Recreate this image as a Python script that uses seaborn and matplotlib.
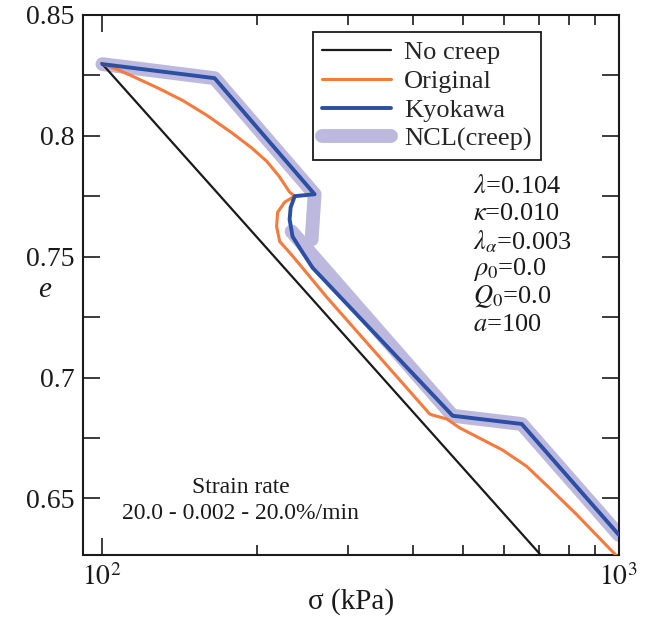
import numpy as np
import pandas as pd
import matplotlib
matplotlib.use('Agg')
import matplotlib.pyplot as plt
import seaborn as sns
from matplotlib.ticker import FixedLocator, MultipleLocator, NullFormatter

# e - log(sigma) curves
nocreep_s = [100, 1000]
nocreep_e = [0.830, 0.5905]

orig_s = [100.4, 107.0, 114.8, 127.8, 143.5, 159.7, 179.2, 195.0, 208.5, 220.0, 231.0, 236.3,
          225.9, 219.0, 218.0, 221.0, 231.0, 243.7, 272.4, 430.8, 434.6,
          464.8, 492.6, 596.6, 663.7, 735.6, 829.6, 960.7, 1000]
orig_e = [0.8296, 0.8275, 0.8246, 0.8200, 0.8146, 0.8085, 0.8010, 0.7950, 0.7895, 0.7835, 0.7767, 0.7750,
          0.7725, 0.7683, 0.7625, 0.7563, 0.7517, 0.7458, 0.7333, 0.6850, 0.6846,
          0.6829, 0.6792, 0.6700, 0.6633, 0.6542, 0.6433, 0.6292, 0.6254]

kyo_s = [100.4, 165.4, 258.2, 247.0, 236.3, 232.1, 231.0, 234.1, 244.8, 255.9,
         477.4, 649.2, 1000]
kyo_e = [0.8296, 0.8238, 0.7758, 0.7754, 0.7750, 0.7704, 0.7654, 0.7583, 0.7517, 0.7454,
         0.6842, 0.6808, 0.6350]

ncl1_s = [100.4, 165.4, 258.2, 254.8]
ncl1_e = [0.8296, 0.8238, 0.7758, 0.7571]
ncl2_s = [233.1, 477.4, 649.2, 1000]
ncl2_e = [0.7604, 0.6842, 0.6808, 0.6350]

params = [r'$\lambda$=0.104', r'$\kappa$=0.010', r'$\lambda_\alpha$=0.003',
          r'$\rho_0$=0.0', r'$Q_0$=0.0', r'$a$=100']

sns.set_theme(style='ticks')
plt.rcParams['font.family'] = ['Liberation Serif', 'DejaVu Serif']
plt.rcParams['mathtext.fontset'] = 'stix'

c_black = '#1a1a1a'
c_orange = '#f57a3c'
c_blue = '#2b4fa3'
c_ncl = '#bdb9de'

fig = plt.figure(figsize=(6.52, 6.17), dpi=100)
ax = fig.add_axes([0.127, 0.100, 0.822, 0.876])

# NCL (creep) thick band underneath
sns.lineplot(x=ncl1_s, y=ncl1_e, sort=False, estimator=None, color=c_ncl, linewidth=10,
             solid_capstyle='round', solid_joinstyle='round', label='NCL(creep)', ax=ax, zorder=1)
sns.lineplot(x=ncl2_s, y=ncl2_e, sort=False, estimator=None, color=c_ncl, linewidth=10,
             solid_capstyle='round', solid_joinstyle='round', ax=ax, zorder=1)
sns.lineplot(x=nocreep_s, y=nocreep_e, sort=False, estimator=None, color=c_black,
             linewidth=1.6, label='No creep', ax=ax, zorder=2)
sns.lineplot(x=orig_s, y=orig_e, sort=False, estimator=None, color=c_orange,
             linewidth=2.2, label='Original', ax=ax, zorder=3)
sns.lineplot(x=kyo_s, y=kyo_e, sort=False, estimator=None, color=c_blue,
             linewidth=2.8, label='Kyokawa', ax=ax, zorder=4)

ax.set_xscale('log')
ax.set_xlim(92, 1000)
ax.set_ylim(0.6265, 0.85)

ax.xaxis.set_major_locator(FixedLocator([100, 1000]))
ax.set_xticklabels([r'$10^2$', r'$10^3$'])
ax.xaxis.set_minor_locator(FixedLocator([200, 300, 400, 500, 600, 700, 800, 900]))
ax.xaxis.set_minor_formatter(NullFormatter())
ax.yaxis.set_major_locator(MultipleLocator(0.05))
ax.yaxis.set_minor_locator(MultipleLocator(0.025))
ax.set_yticks([0.65, 0.7, 0.75, 0.8, 0.85])
ax.set_yticklabels(['0.65', '0.7', '0.75', '0.8', '0.85'])

ax.tick_params(which='both', direction='in', top=True, right=True, width=1.2,
               labelsize=20, color=c_black, labelcolor=c_black)
ax.tick_params(which='major', length=12, pad=6)
ax.tick_params(axis='y', which='minor', length=12)
ax.tick_params(axis='x', which='minor', length=7)
for sp in ax.spines.values():
    sp.set_linewidth(1.5)
    sp.set_color(c_black)

ax.set_xlabel('σ (kPa)', fontsize=21, color=c_black, labelpad=-2)
ax.set_ylabel('e', fontsize=21, style='italic', rotation=0, color=c_black,
              ha='center', va='center')
ax.yaxis.set_label_coords(-0.071, 0.49)

handles, labels = ax.get_legend_handles_labels()
order = ['No creep', 'Original', 'Kyokawa', 'NCL(creep)']
hmap = dict(zip(labels, handles))
leg = ax.legend([hmap[k] for k in order], order, loc='upper right',
                bbox_to_anchor=(0.855, 0.969), fontsize=19, frameon=True, fancybox=False,
                labelspacing=0.2, handlelength=2.6, handletextpad=0.5, borderpad=0.35,
                borderaxespad=0)
leg.get_frame().set_edgecolor(c_black)
leg.get_frame().set_linewidth(1.3)
leg.get_frame().set_alpha(1)

for i, p in enumerate(params):
    ax.text(0.728, 0.682 - i * 0.051, p, transform=ax.transAxes, fontsize=19,
            color=c_black, va='center', ha='left')

ax.text(0.295, 0.126, 'Strain rate', transform=ax.transAxes, fontsize=17,
        ha='center', va='center', color=c_black)
ax.text(0.295, 0.078, '20.0 - 0.002 - 20.0%/min', transform=ax.transAxes, fontsize=17,
        ha='center', va='center', color=c_black)

fig.savefig('out.png', dpi=100)
